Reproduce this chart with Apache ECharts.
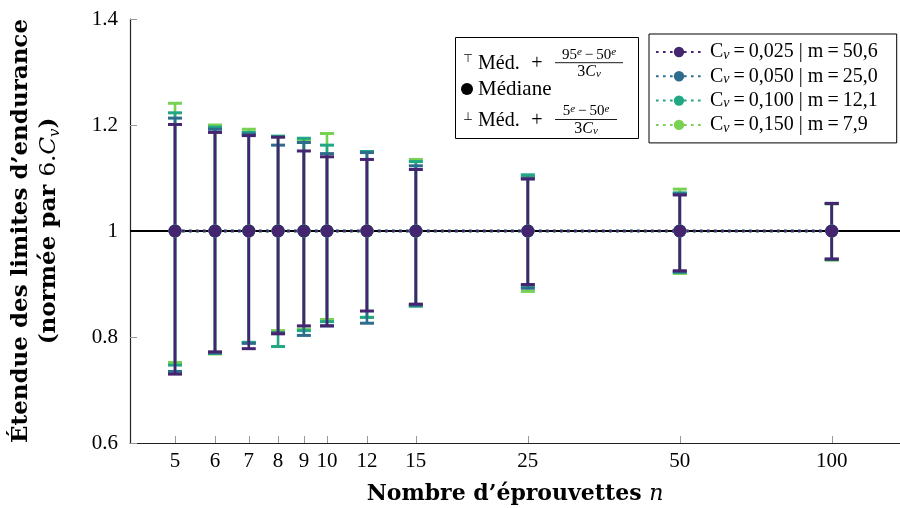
<!DOCTYPE html>
<html>
<head>
<meta charset="utf-8">
<script src="https://cdn.jsdelivr.net/npm/echarts@6/dist/echarts.min.js"></script>
<style>html,body{margin:0;padding:0;background:#fff}#c{width:900px;height:508px}</style>
</head>
<body>
<div id="c"></div>
<script>
// ---- data ----
const nSpec = [5, 6, 7, 8, 9, 10, 12, 15, 25, 50, 100];
const xTicks = [5, 6, 7, 8, 9, 10, 12, 15, 25, 50, 100];
const yTicks = [0.6, 0.8, 1.0, 1.2, 1.4];
const cvLabels = ['0,025', '0,050', '0,100', '0,150'];
const mLabels = ['50,6', '25,0', '12,1', '7,9'];
const median025 = [1, 1, 1, 1, 1, 1, 1, 1, 1, 1, 1];
const median050 = [1, 1, 1, 1, 1, 1, 1, 1, 1, 1, 1];
const median100 = [1, 1, 1, 1, 1, 1, 1, 1, 1, 1, 1];
const median150 = [1, 1, 1, 1, 1, 1, 1, 1, 1, 1, 1];
const high025 = [1.201, 1.186, 1.180, 1.177, 1.151, 1.140, 1.135, 1.116, 1.098, 1.068, 1.052];
const high050 = [1.213, 1.192, 1.183, 1.162, 1.167, 1.146, 1.148, 1.123, 1.100, 1.070, 1.052];
const high100 = [1.223, 1.196, 1.186, 1.179, 1.175, 1.162, 1.150, 1.131, 1.106, 1.072, 1.052];
const high150 = [1.241, 1.200, 1.192, 1.178, 1.172, 1.184, 1.150, 1.135, 1.104, 1.079, 1.051];
const low025 = [0.730, 0.772, 0.778, 0.806, 0.821, 0.821, 0.849, 0.862, 0.899, 0.925, 0.947];
const low050 = [0.735, 0.770, 0.788, 0.808, 0.803, 0.821, 0.826, 0.860, 0.892, 0.923, 0.947];
const low100 = [0.747, 0.769, 0.790, 0.782, 0.812, 0.829, 0.837, 0.858, 0.896, 0.922, 0.946];
const low150 = [0.752, 0.768, 0.789, 0.812, 0.815, 0.833, 0.837, 0.860, 0.886, 0.920, 0.945];
const refLevel = [1];

// ---- styles ----
const FONT = 'Liberation Serif';
const TFONT = 'DejaVu Serif';
const colors = ['#45256f', '#2e6c8e', '#22a784', '#78d152'];
const groups = [
  { med: median025, lo: low025, hi: high025 },
  { med: median050, lo: low050, hi: high050 },
  { med: median100, lo: low100, hi: high100 },
  { med: median150, lo: low150, hi: high150 }
];
const names = cvLabels.map((c, i) => 'C_v=' + c + ' | m=' + mLabels[i]);

function renderErr(params, api) {
  const x = api.value(0), lo = api.value(1), hi = api.value(2);
  const pH = api.coord([x, hi]), pL = api.coord([x, lo]);
  const c = api.visual('color');
  const h = 7;
  return {
    type: 'group',
    children: [
      { type: 'line', shape: { x1: pH[0], y1: pH[1], x2: pL[0], y2: pL[1] }, style: { stroke: c, lineWidth: 2.6 } },
      { type: 'line', shape: { x1: pH[0] - h, y1: pH[1], x2: pH[0] + h, y2: pH[1] }, style: { stroke: c, lineWidth: 3 } },
      { type: 'line', shape: { x1: pL[0] - h, y1: pL[1], x2: pL[0] + h, y2: pL[1] }, style: { stroke: c, lineWidth: 3 } }
    ]
  };
}

const series = [];
// reference line at the median level (drawn underneath everything)
series.push({
  name: '__ref', type: 'line', z: 1, data: [], silent: true, animation: false,
  markLine: {
    z: 1, silent: true, symbol: ['none', 'none'], animation: false,
    label: { show: false },
    lineStyle: { color: '#000', width: 2, type: 'solid' },
    data: refLevel.map(v => ({ yAxis: v }))
  }
});
// draw order: light green first, dark purple last (on top)
for (let k = 3; k >= 0; k--) {
  const g = groups[k];
  series.push({
    name: names[k], type: 'line', z: 3,
    data: nSpec.map((n, i) => [n, g.med[i]]),
    symbol: 'circle', symbolSize: 13,
    itemStyle: { color: colors[k] },
    lineStyle: { color: colors[k], width: 2.6, type: [2.6, 4.4] },
    animation: false
  });
  series.push({
    name: names[k], type: 'custom', z: 2,
    data: nSpec.map((n, i) => [n, g.lo[i], g.hi[i]]),
    encode: { x: 0, y: [1, 2] },
    itemStyle: { color: colors[k] },
    renderItem: renderErr,
    animation: false
  });
}

const chart = echarts.init(document.getElementById('c'), null, { renderer: 'canvas' });

function frac(cx, yNum, yLine, yDen, numText, x1, x2) {
  return [
    { type: 'text', x: cx, y: yNum, style: { text: numText, fill: '#000', fontFamily: FONT, fontSize: 15, align: 'center', verticalAlign: 'middle', lineHeight: 16,
      rich: { s: { fontFamily: FONT, fontSize: 11, fontStyle: 'italic', lineHeight: 10, verticalAlign: 'top' } } } },
    { type: 'line', shape: { x1: x1, y1: yLine, x2: x2, y2: yLine }, style: { stroke: '#000', lineWidth: 0.9 } },
    { type: 'text', x: cx, y: yDen, style: { text: '3{i|C}{s|v}', fill: '#000', fontFamily: FONT, fontSize: 16, align: 'center', verticalAlign: 'middle', lineHeight: 16,
      rich: { i: { fontFamily: FONT, fontSize: 16, fontStyle: 'italic', lineHeight: 16 }, s: { fontFamily: FONT, fontSize: 11, fontStyle: 'italic', lineHeight: 10, verticalAlign: 'bottom' } } } }
  ];
}

const graphic = [
  { type: 'rect', shape: { x: 455.5, y: 37.5, width: 183, height: 101 }, style: { fill: '#fff', stroke: '#000', lineWidth: 1 }, z: 100 },
  { type: 'text', x: 468, y: 59, z: 101, style: { text: '\u22A4', fill: '#000', fontFamily: 'DejaVu Sans', fontSize: 11, align: 'center', verticalAlign: 'middle' } },
  { type: 'text', x: 478, y: 63.5, z: 101, style: { text: 'Méd.', fill: '#000', fontFamily: FONT, fontSize: 20, verticalAlign: 'middle' } },
  { type: 'text', x: 537, y: 63.5, z: 101, style: { text: '+', fill: '#000', fontFamily: FONT, fontSize: 20, align: 'center', verticalAlign: 'middle' } },
  { type: 'circle', shape: { cx: 467, cy: 89, r: 6 }, style: { fill: '#000' }, z: 101 },
  { type: 'text', x: 478, y: 89, z: 101, style: { text: 'Médiane', fill: '#000', fontFamily: FONT, fontSize: 21, verticalAlign: 'middle' } },
  { type: 'text', x: 468, y: 117, z: 101, style: { text: '\u22A5', fill: '#000', fontFamily: 'DejaVu Sans', fontSize: 11, align: 'center', verticalAlign: 'middle' } },
  { type: 'text', x: 478, y: 121, z: 101, style: { text: 'Méd.', fill: '#000', fontFamily: FONT, fontSize: 20, verticalAlign: 'middle' } },
  { type: 'text', x: 537, y: 121, z: 101, style: { text: '+', fill: '#000', fontFamily: FONT, fontSize: 20, align: 'center', verticalAlign: 'middle' } }
].concat(
  frac(589, 55, 62.7, 72, '95{s|e}\u2009\u2212\u200950{s|e}', 555, 623).map(e => Object.assign(e, { z: 101 })),
  frac(586, 111.5, 119.5, 128.5, '5{s|e}\u2009\u2212\u200950{s|e}', 555, 617).map(e => Object.assign(e, { z: 101 }))
);

chart.setOption({
  animation: false,
  backgroundColor: '#fff',
  textStyle: { fontFamily: FONT },
  grid: { left: 130, right: 0, top: 19, bottom: 65, containLabel: false, outerBoundsMode: 'none' },
  xAxis: {
    type: 'log', logBase: 10, min: 4.0717, max: 136.52,
    axisLine: { show: true, lineStyle: { color: '#222', width: 1.2 } },
    axisTick: { show: true, inside: true, length: 7, customValues: xTicks, lineStyle: { color: '#999', width: 1 } },
    axisLabel: { customValues: xTicks, formatter: v => String(v), color: '#000', fontFamily: FONT, fontSize: 21, margin: 8 },
    splitLine: { show: false },
    minorTick: { show: false },
    name: 'Nombre d’éprouvettes {i|n}', nameLocation: 'middle', nameGap: 40,
    nameTextStyle: { fontFamily: TFONT, fontSize: 22, fontWeight: 'bold', color: '#000',
      rich: { i: { fontFamily: TFONT, fontSize: 22, fontStyle: 'italic', fontWeight: 'normal', color: '#000' } } }
  },
  yAxis: {
    type: 'value', min: yTicks[0], max: yTicks[yTicks.length - 1], interval: 0.2,
    axisLine: { show: true, lineStyle: { color: '#222', width: 1.2 } },
    axisTick: { show: true, inside: true, length: 7, lineStyle: { color: '#999', width: 1 } },
    axisLabel: { color: '#000', fontFamily: FONT, fontSize: 21, margin: 12, formatter: v => String(Math.round(v * 10) / 10) },
    splitLine: { show: false },
    name: '{b|Étendue des limites d’endurance}\n{b|(normée par }{m|6.}{i|C}{s|v}{b|)}',
    nameLocation: 'middle', nameRotate: 90, nameGap: 67,
    nameTextStyle: {
      color: '#000', fontFamily: TFONT, fontSize: 23, lineHeight: 28,
      rich: {
        b: { fontFamily: TFONT, fontSize: 23, fontWeight: 'bold', color: '#000', lineHeight: 28 },
        m: { fontFamily: TFONT, fontSize: 23, color: '#000', lineHeight: 28 },
        i: { fontFamily: TFONT, fontSize: 23, fontStyle: 'italic', color: '#000', lineHeight: 28 },
        s: { fontFamily: TFONT, fontSize: 15, fontStyle: 'italic', color: '#000', lineHeight: 15, verticalAlign: 'bottom' }
      }
    }
  },
  legend: {
    data: names.slice(),
    orient: 'vertical', left: 649, top: 34,
    backgroundColor: '#fff', borderColor: '#000', borderWidth: 1,
    padding: [8, 19, 8, 6],
    itemWidth: 46, itemHeight: 13, itemGap: 4.3,
    selectedMode: false,
    textStyle: {
      fontFamily: FONT, fontSize: 20, color: '#000', lineHeight: 20, padding: [0, 0, 0, 3],
      rich: {
        r: { fontFamily: FONT, fontSize: 20, color: '#000', lineHeight: 20 },
        s: { fontFamily: FONT, fontSize: 14, fontStyle: 'italic', color: '#000', lineHeight: 13, verticalAlign: 'bottom' }
      }
    },
    formatter: name => {
      const rest = name.slice(3).replace(/=/g, '\u2009=\u2009');
      return '{r|C}{s|v}{r|' + rest + '}';
    }
  },
  graphic: graphic,
  series: series
});
</script>
</body>
</html>
